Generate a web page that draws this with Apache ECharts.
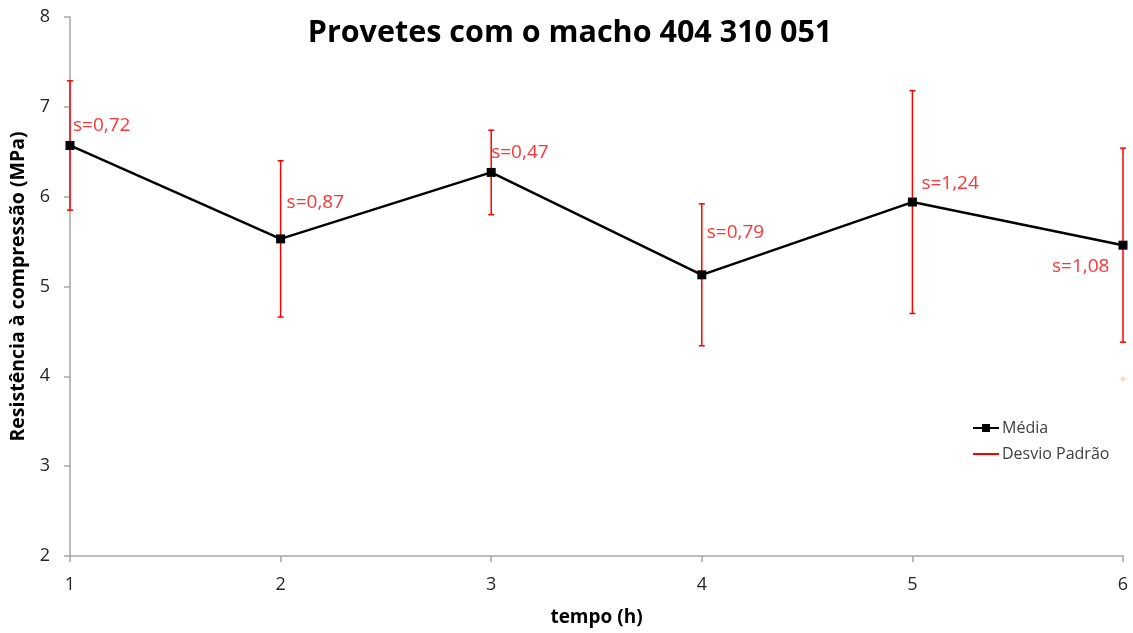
<!DOCTYPE html>
<html>
<head>
<meta charset="utf-8">
<script src="https://cdn.jsdelivr.net/npm/echarts@6/dist/echarts.min.js"></script>
<style>
html,body{margin:0;padding:0;background:#fff;}
#chart{width:1133px;height:633px;}
</style>
</head>
<body>
<div id="chart"></div>
<script>
// Ensaio de compressão: média e desvio padrão por tempo de cura
const tempos = [1, 2, 3, 4, 5, 6];
const medias = [6.57, 5.53, 6.27, 5.13, 5.94, 5.46];
const desvios = [0.72, 0.87, 0.47, 0.79, 1.24, 1.08];
const pontoIsolado = [[6, 3.97]];
const yTicks = [2, 3, 4, 5, 6, 7, 8];

const fmt = v => 's=' + v.toFixed(2).replace('.', ',');

// label placement per point (px offsets from the mean marker)
const labelOffsets = [[3, -20], [6, -36], [0, -20], [5, -42], [9, -18], [-71, 21]];

const linhaData = tempos.map((t, i) => [t, medias[i]]);
const erroData = tempos.map((t, i) => [t, medias[i] - desvios[i], medias[i] + desvios[i]]);
const rotuloData = tempos.map((t, i) => ({
  value: [t, medias[i]],
  label: { offset: labelOffsets[i] }
}));

const chart = echarts.init(document.getElementById('chart'));
const fontFam = '"Open Sans", "Noto Sans", sans-serif';

chart.setOption({
  animation: false,
  title: {
    text: 'Provetes com o macho 404 310 051',
    left: 565, top: 13, textAlign: 'center',
    textStyle: { fontFamily: fontFam, fontWeight: 'bold', fontSize: 30.5, color: '#000' }
  },
  grid: { left: 70, right: 10, top: 17, bottom: 77, outerBoundsMode: 'none', containLabel: false },
  legend: {
    orient: 'vertical', left: 968, top: 415, itemGap: 10,
    itemWidth: 26, itemHeight: 10,
    textStyle: { fontFamily: fontFam, fontSize: 16, color: '#404040', padding: [0, 0, 0, -2] },
    data: [
      { name: 'Média', icon: 'path://M0,4 L26,4 L26,6 L0,6 Z M9,1 L17,1 L17,9 L9,9 Z' },
      { name: 'Desvio Padrão', icon: 'path://M0,4 L26,4 L26,6 L0,6 Z', itemStyle: { color: '#ff0000' } }
    ]
  },
  xAxis: {
    type: 'value', min: 1, max: 6, interval: 1,
    name: 'tempo (h)', nameLocation: 'middle', nameGap: 52,
    nameTextStyle: { fontFamily: fontFam, fontWeight: 'bold', fontSize: 19, color: '#000' },
    axisLine: { lineStyle: { color: '#a6a6a6', width: 1.5 } },
    axisTick: { show: true, length: 6, lineStyle: { color: '#a6a6a6', width: 1.5 } },
    axisLabel: { fontFamily: fontFam, fontSize: 18, color: '#262626', margin: 20 },
    splitLine: { show: false }
  },
  yAxis: {
    type: 'value', min: yTicks[0], max: yTicks[yTicks.length - 1], interval: 1,
    name: 'Resistência à compressão (MPa)', nameLocation: 'middle', nameGap: 40,
    nameTextStyle: { fontFamily: fontFam, fontWeight: 'bold', fontSize: 19.5, color: '#000' },
    axisLine: { show: true, lineStyle: { color: '#a6a6a6', width: 1.5 } },
    axisTick: { show: true, length: 6, lineStyle: { color: '#a6a6a6', width: 1.5 } },
    axisLabel: { fontFamily: fontFam, fontSize: 18, color: '#262626', margin: 20 },
    splitLine: { show: false }
  },
  series: [
    {
      name: 'Desvio Padrão', type: 'custom', z: 3,
      itemStyle: { color: '#ff0000' },
      renderItem: function (params, api) {
        const x = api.value(0);
        const lo = api.coord([x, api.value(1)]);
        const hi = api.coord([x, api.value(2)]);
        const c = 3;
        const st = { stroke: '#ff0000', lineWidth: 1.5 };
        return {
          type: 'group',
          children: [
            { type: 'line', shape: { x1: hi[0], y1: hi[1], x2: lo[0], y2: lo[1] }, style: st },
            { type: 'line', shape: { x1: hi[0] - c, y1: hi[1], x2: hi[0] + c, y2: hi[1] }, style: st },
            { type: 'line', shape: { x1: lo[0] - c, y1: lo[1], x2: lo[0] + c, y2: lo[1] }, style: st }
          ]
        };
      },
      encode: { x: 0, y: [1, 2] },
      data: erroData
    },
    {
      name: 'Média', type: 'line', z: 5,
      data: linhaData,
      symbol: 'rect', symbolSize: 9,
      lineStyle: { color: '#000', width: 2.5 },
      itemStyle: { color: '#000' }
    },
    {
      name: 'rotulos', type: 'scatter', z: 6, silent: true,
      symbolSize: 0,
      data: rotuloData,
      label: {
        show: true, position: 'inside', align: 'left', verticalAlign: 'middle',
        fontFamily: fontFam, fontSize: 19, color: '#ff0000',
        formatter: p => fmt(desvios[p.dataIndex])
      }
    },
    {
      name: 'ponto', type: 'scatter', z: 4, silent: true,
      symbol: 'diamond', symbolSize: 6,
      itemStyle: { color: '#fbd3a0', opacity: 0.8 },
      data: pontoIsolado
    }
  ]
});
</script>
</body>
</html>
